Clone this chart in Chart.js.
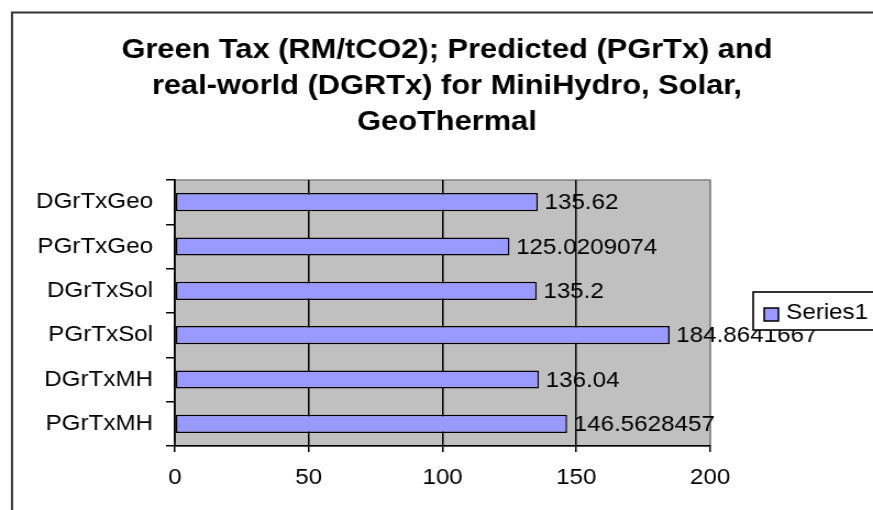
<!DOCTYPE html>
<html>
<head>
<meta charset="utf-8">
<script src="https://cdn.jsdelivr.net/npm/chart.js@4/dist/chart.umd.min.js"></script>
<style>
  html, body { margin: 0; padding: 0; background: #fff; overflow: hidden; }
  #wrap { width: 794px; height: 510px; transform: scaleX(1.09950); transform-origin: 0 0; }
  canvas { display: block; }
</style>
</head>
<body>
<div id="wrap"><canvas id="c" width="794" height="510"></canvas></div>
<script>
// ---- data ----
const titleLines = [
  'Green Tax (RM/tCO2); Predicted (PGrTx) and',
  'real-world (DGRTx) for MiniHydro, Solar,',
  'GeoThermal'
];
const categories = ['PGrTxMH', 'DGrTxMH', 'PGrTxSol', 'DGrTxSol', 'PGrTxGeo', 'DGrTxGeo'];
const series1 = [146.5628457, 136.04, 184.8641667, 135.2, 125.0209074, 135.62];
const seriesName = 'Series1';
const xTickValues = [0, 50, 100, 150, 200];

const FONT = "'Liberation Sans', Arial, sans-serif";

const frameAndPlot = {
  id: 'frameAndPlot',
  beforeDraw(chart) {
    const ctx = chart.ctx;
    const a = chart.chartArea;
    ctx.save();
    ctx.fillStyle = '#ffffff';
    ctx.fillRect(0, 0, chart.width, chart.height);
    ctx.strokeStyle = '#333333';
    ctx.lineWidth = 2;
    ctx.strokeRect(10.9, 12.5, 1000, 1000);
    ctx.fillStyle = '#c0c0c0';
    ctx.fillRect(a.left, a.top, a.right - a.left, a.bottom - a.top);
    ctx.strokeStyle = '#808080';
    ctx.lineWidth = 1.5;
    ctx.strokeRect(a.left, a.top, a.right - a.left, a.bottom - a.top);
    ctx.restore();
  }
};

const valueLabels = {
  id: 'valueLabels',
  afterDatasetsDraw(chart) {
    const ctx = chart.ctx;
    const meta = chart.getDatasetMeta(0);
    const data = chart.data.datasets[0].data;
    ctx.save();
    ctx.font = '22px ' + FONT;
    ctx.fillStyle = '#000';
    ctx.textAlign = 'left';
    ctx.textBaseline = 'middle';
    meta.data.forEach((bar, i) => {
      ctx.fillText(String(data[i]), bar.x + 6, bar.y + 1);
    });
    ctx.restore();
  }
};

const boxLegend = {
  id: 'boxLegend',
  afterDraw(chart) {
    const ctx = chart.ctx;
    const ds = chart.data.datasets[0];
    ctx.save();
    ctx.fillStyle = '#fff';
    ctx.fillRect(685, 292, 200, 38);
    ctx.strokeStyle = '#000';
    ctx.lineWidth = 1.6;
    ctx.strokeRect(685, 292, 200, 38);
    ctx.fillStyle = ds.backgroundColor;
    ctx.fillRect(695, 308, 13, 13);
    ctx.lineWidth = 1.5;
    ctx.strokeRect(695, 308, 13, 13);
    ctx.fillStyle = '#000';
    ctx.font = '22px ' + FONT;
    ctx.textAlign = 'left';
    ctx.textBaseline = 'middle';
    ctx.fillText(ds.label, 715, 313);
    ctx.restore();
  }
};

new Chart(document.getElementById('c'), {
  type: 'bar',
  data: {
    labels: categories,
    datasets: [{
      label: seriesName,
      data: series1,
      backgroundColor: '#9999ff',
      borderColor: '#000000',
      borderWidth: 1.5,
      borderSkipped: false,
      barPercentage: 0.41,
      categoryPercentage: 1.0
    }]
  },
  options: {
    indexAxis: 'y',
    responsive: false,
    animation: false,
    devicePixelRatio: 1,
    layout: { padding: { left: 19, right: 0, top: 0, bottom: 0 } },
    plugins: {
      legend: { display: false },
      tooltip: { enabled: false },
      title: {
        display: true,
        text: titleLines,
        color: '#000',
        font: { family: FONT, size: 28, weight: 'bold', lineHeight: 36 / 28 },
        padding: { top: 32, bottom: 40 }
      }
    },
    scales: {
      x: {
        type: 'linear',
        position: 'bottom',
        min: 0,
        max: 200,
        afterBuildTicks: s => { s.ticks = xTickValues.map(v => ({ value: v })); },
        afterFit: s => { s.height = 64; },
        ticks: { color: '#000', font: { family: FONT, size: 22 }, padding: 13, maxRotation: 0 },
        grid: {
          color: c => (c.tick && c.tick.value === 200) ? '#808080' : '#000000',
          tickColor: '#000000',
          lineWidth: 1.5,
          tickLength: 6,
          drawOnChartArea: true,
          drawTicks: true
        },
        border: { display: true, color: '#000', width: 1.5 }
      },
      y: {
        type: 'category',
        position: 'left',
        reverse: true,
        afterFit: s => { s.width = 140.2; },
        ticks: { color: '#000', font: { family: FONT, size: 22 }, padding: 11.8 },
        grid: {
          drawOnChartArea: false,
          drawTicks: true,
          tickLength: 8.2,
          color: '#000',
          lineWidth: 1.5,
          offset: true
        },
        border: { display: true, color: '#000', width: 1.5 }
      },
      yRight: {
        type: 'linear',
        position: 'right',
        display: true,
        afterFit: s => { s.width = 148.2; },
        grid: { display: false, drawTicks: false },
        border: { display: false },
        ticks: { display: false }
      }
    }
  },
  plugins: [frameAndPlot, valueLabels, boxLegend]
});
</script>
</body>
</html>
